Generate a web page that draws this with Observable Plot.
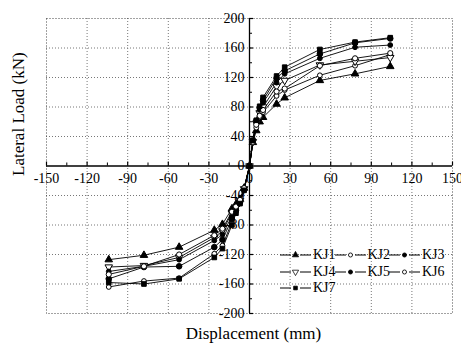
<!DOCTYPE html>
<html>
<head>
<meta charset="utf-8">
<script src="https://cdn.jsdelivr.net/npm/d3@7"></script>
<script src="https://cdn.jsdelivr.net/npm/@observablehq/plot@0.6"></script>
<style>
  html, body { margin: 0; padding: 0; background: white; }
  #wrap { position: relative; width: 461px; height: 345px; font-family: 'Liberation Serif', 'Times New Roman', serif; }
  .leg { position: absolute; display: flex; align-items: center; font-size: 14px; line-height: 14px; color: black; font-family: 'Liberation Serif', 'Times New Roman', serif; }
</style>
</head>
<body>
<div id="wrap"></div>
<script>
// ---- data ----
const series = ["KJ1", "KJ2", "KJ3", "KJ4", "KJ5", "KJ6", "KJ7"];
const displacement = [-104, -78, -52, -26, -20, -13, -10, -7, -4, 0, 2.5, 5, 7.5, 10, 20, 26, 52, 78, 104];
const KJ1 = [-127, -121, -110, -87, -79, -58, -52, -45, -30, 0, 32, 48, 60, 66, 84, 92.5, 116, 125, 135];
const KJ2 = [-164, -156, -152, -119, -108, -76, -62, -50, -32, 0, 33, 52, 66, 73, 95, 103, 123, 136, 151];
const KJ3 = [-153, -137, -136, -110, -100, -72, -60, -49, -32, 0, 34, 61, 79, 89, 119, 129, 152, 167, 173];
const KJ4 = [-137, -135, -124, -97, -88, -64, -56, -47, -31, 0, 33, 58, 72, 80, 108, 116, 137, 142, 147];
const KJ5 = [-143, -136, -127, -101, -93, -68, -58, -48, -31, 0, 34, 60, 76, 86, 113, 125, 146, 161, 164];
const KJ6 = [-147, -136, -120, -94, -85, -62, -55, -46, -30, 0, 33, 56, 68, 76, 101, 105, 136, 146, 153];
const KJ7 = [-158, -160, -153, -124, -112, -80, -64, -51, -33, 0, 35, 62, 81, 93, 122, 134, 158, 168, 174];
const values = {KJ1, KJ2, KJ3, KJ4, KJ5, KJ6, KJ7};
const xTicks = [-150, -120, -90, -60, -30, 0, 30, 60, 90, 120, 150];
const yTicks = [-200, -160, -120, -80, -40, 0, 40, 80, 120, 160, 200];
const xMinor = [-135, -105, -75, -45, -15, 15, 45, 75, 105, 135];
const yMinor = [-180, -140, -100, -60, -20, 20, 60, 100, 140, 180];
const xLabel = "Displacement (mm)";
const yLabel = "Lateral Load (kN)";

const serif = "Liberation Serif";

// marker styles per series
const sym = {
  KJ1: {symbol: "triangle", fill: "black", r: 2.8, rotate: 0},
  KJ2: {symbol: "circle", fill: "white", r: 2.4, rotate: 0},
  KJ3: {symbol: "circle", fill: "black", r: 2.8, rotate: 0},
  KJ4: {symbol: "triangle", fill: "white", r: 2.8, rotate: 180},
  KJ5: {symbol: "circle", fill: "black", r: 2.4, rotate: 0},
  KJ6: {symbol: "circle", fill: "white", r: 2.6, rotate: 0},
  KJ7: {symbol: "square", fill: "black", r: 2.6, rotate: 0}
};

const rows = series.flatMap(s => displacement.map((d, i) => ({series: s, x: d, y: values[s][i]})));

const gridStyle = {stroke: "#777", strokeDasharray: "1,2", strokeWidth: 1};

const marks = [
  Plot.ruleX(xTicks.filter(d => d !== 0 && Math.abs(d) !== 150), gridStyle),
  Plot.ruleY(yTicks.filter(d => d !== 0 && Math.abs(d) !== 200), gridStyle),
  Plot.frame({stroke: "#444", strokeDasharray: "1,2"}),
  Plot.ruleY([0], {stroke: "black", strokeWidth: 1.3}),
  Plot.ruleX([0], {stroke: "black", strokeWidth: 1.3}),
  // ticks on axes through origin
  Plot.ruleX(xTicks, {x: d => d, y: 0, insetTop: -4, stroke: "black", strokeWidth: 1.2}),
  Plot.ruleX(xMinor, {x: d => d, y: 0, insetTop: -3, stroke: "black", strokeWidth: 1}),
  Plot.ruleY(yTicks, {y: d => d, x: 0, insetRight: -4, stroke: "black", strokeWidth: 1.2}),
  Plot.ruleY(yMinor, {y: d => d, x: 0, insetRight: -3, stroke: "black", strokeWidth: 1}),
  // tick labels
  Plot.text(xTicks, {x: d => d, y: 0, dy: 13, text: d => String(d), fontSize: 14, fill: "black", fontFamily: serif}),
  Plot.text(yTicks, {y: d => d, x: 0, dx: -5, textAnchor: "end", text: d => String(d), fontSize: 14, fill: "black", fontFamily: serif}),
  // axis titles
  Plot.text([xLabel], {frameAnchor: "bottom", lineAnchor: "middle", dy: 20, dx: 4, text: d => d, fontSize: 17, fill: "black", fontFamily: serif}),
  Plot.text([yLabel], {frameAnchor: "left", lineAnchor: "middle", dx: -28, dy: 10, rotate: -90, text: d => d, fontSize: 17, fill: "black", fontFamily: serif}),
  // curves
  Plot.line(rows, {x: "x", y: "y", z: "series", stroke: "black", strokeWidth: 0.9}),
  ...series.map(s => Plot.dot(rows.filter(r => r.series === s), {
    x: "x", y: "y", symbol: sym[s].symbol, r: sym[s].r, rotate: sym[s].rotate,
    fill: sym[s].fill, stroke: "black", strokeWidth: 1
  }))
];

const chart = Plot.plot({
  width: 461,
  height: 345,
  marginLeft: 46,
  marginRight: 9,
  marginTop: 18,
  marginBottom: 32,
  x: {domain: [-150, 150], axis: null},
  y: {domain: [-200, 200], axis: null},
  style: {fontFamily: serif, background: "white", overflow: "visible"},
  marks
});

const wrap = document.getElementById("wrap");
wrap.appendChild(chart);

// legend
const legPos = [[0,0],[1,0],[2,0],[0,1],[1,1],[2,1],[0,2]];
const symbolPaths = {
  triangle: d3.symbol(d3.symbolTriangle, 30)(),
  circle: d3.symbol(d3.symbolCircle, 18)(),
  square: d3.symbol(d3.symbolSquare, 18)()
};
series.forEach((s, i) => {
  const [c, r] = legPos[i];
  const div = document.createElement("div");
  div.className = "leg";
  div.style.left = (280 + c * 54.5) + "px";
  div.style.top = (248 + r * 16.7) + "px";
  const st = sym[s];
  const scale = s === "KJ1" || s === "KJ4" ? 0.75 : 0.85;
  div.innerHTML =
    `<svg width="32" height="14" style="display:block">
       <line x1="0" x2="11" y1="7" y2="7" stroke="black" stroke-width="1"/>
       <line x1="20" x2="31" y1="7" y2="7" stroke="black" stroke-width="1"/>
       <path d="${symbolPaths[st.symbol]}" transform="translate(15.5,7) rotate(${st.rotate}) scale(${scale})" fill="${st.fill}" stroke="black" stroke-width="1"/>
     </svg><span style="margin-left:1px">${s}</span>`;
  wrap.appendChild(div);
});
</script>
</body>
</html>
